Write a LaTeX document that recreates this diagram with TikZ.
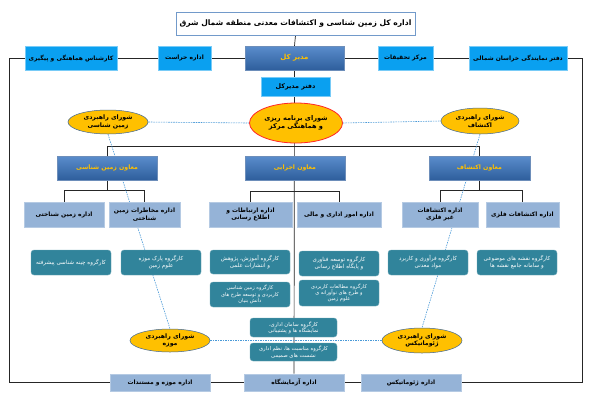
\documentclass[tikz,border=0pt]{standalone}
\usepackage{fontspec}
\newfontfamily\fa[Script=Arabic]{DejaVu Sans}
\TeXXeTstate=1
\usetikzlibrary{shapes.geometric,shadows,backgrounds}
\newcommand\fr[1]{\beginR #1\endR}
\definecolor{topblue}{HTML}{0AA0F0}
\definecolor{darkA}{HTML}{5A8DCC}
\definecolor{darkB}{HTML}{2E5E9C}
\definecolor{gold}{HTML}{FFC000}
\definecolor{lightbox}{HTML}{95B3D7}
\definecolor{tealbox}{HTML}{31849B}
\definecolor{dotblue}{HTML}{4A9AD8}
\definecolor{framec}{HTML}{4F81BD}
\begin{document}
\begin{tikzpicture}[x=1pt,y=-1pt,
  base/.style={inner sep=1pt, align=center, font=\fa\bfseries\fontsize{6}{7.4}\selectfont},
  topbox/.style={base, rectangle, fill=topblue, draw=topblue!55!white, line width=0.6pt},
  darkbox/.style={base, rectangle, top color=darkA, bottom color=darkB, draw=darkB!70!white, text=gold,
    font=\fa\bfseries\fontsize{6.2}{7}\selectfont, drop shadow={shadow xshift=0.8pt, shadow yshift=-1pt, fill=black!35}},
  offbox/.style={base, rectangle, fill=lightbox, draw=lightbox!70!white, line width=0.6pt,
    drop shadow={shadow xshift=0.8pt, shadow yshift=-1pt, fill=black!30}},
  wgbox/.style={base, rectangle, rounded corners=3pt, fill=tealbox, draw=tealbox!70!white, text=white,
    font=\fa\fontsize{5.6}{7}\selectfont},
  council/.style={base, ellipse, inner sep=0pt, fill=gold, draw=framec!80!black, line width=0.5pt,
    font=\fa\bfseries\fontsize{6.2}{7.6}\selectfont},
  conn/.style={draw=black!85, line width=0.7pt},
  dotl/.style={draw=dotblue, line width=0.6pt, dash pattern=on 1.5pt off 1pt},
]
\begin{pgfonlayer}{background}
\fill[white] (0,0) rectangle (591,400);
\end{pgfonlayer}
\useasboundingbox (0,0) rectangle (591,400);

% top
\node[base, rectangle, fill=white, draw=framec!80!white, line width=0.8pt, minimum width=239pt, minimum height=23pt,
  font=\fa\bfseries\fontsize{7.6}{9}\selectfont] (title) at (295.5,23.5) {\fr{اداره کل زمین شناسی و اکتشافات معدنی منطقه شمال شرق}};
\node[darkbox, minimum width=99pt, minimum height=24pt, font=\fa\bfseries\fontsize{7}{8}\selectfont] (modir) at (294.5,58) {\fr{مدیر کل}};
\node[topbox, minimum width=53pt, minimum height=24pt] (herasat) at (184.5,58) {\fr{اداره حراست}};
\node[topbox, minimum width=92pt, minimum height=24pt] (karshenas) at (71,58) {\fr{کارشناس هماهنگی و پیگیری}};
\node[topbox, minimum width=55pt, minimum height=24pt] (markaz) at (405.5,58) {\fr{مرکز تحقیقات}};
\node[topbox, minimum width=98pt, minimum height=24pt] (namayande) at (518,58) {\fr{دفتر نمایندگی خراسان شمالی}};
\node[topbox, minimum width=69pt, minimum height=19pt, font=\fa\bfseries\fontsize{6.4}{7}\selectfont] (daftar) at (295.5,86.5) {\fr{دفتر مدیرکل}};

% councils
\node[council, draw=red!85, line width=0.8pt, minimum width=93pt, minimum height=40pt, font=\fa\bfseries\fontsize{6.6}{8.2}\selectfont] (ecenter) at (296,123) {\fr{شورای برنامه ریزی}\\\fr{و هماهنگی مرکز}};
\node[council, minimum width=80pt, minimum height=24pt] (egeo) at (108,122) {\fr{شورای راهبردی}\\\fr{زمین شناسی}};
\node[council, minimum width=78pt, minimum height=26pt] (eexplo) at (480,121) {\fr{شورای راهبردی}\\\fr{اکتشاف}};

% deputies
\node[darkbox, minimum width=100pt, minimum height=24pt] (mgeo) at (107,168) {\fr{معاون زمین شناسی}};
\node[darkbox, minimum width=100pt, minimum height=24pt] (mexec) at (295,168) {\fr{معاون اجرایی}};
\node[darkbox, minimum width=101pt, minimum height=24pt] (mexplo) at (479.5,168) {\fr{معاون اکتشاف}};

% offices
\node[offbox, minimum width=80pt, minimum height=25pt] (ozamin) at (64,214.5) {\fr{اداره  زمین شناختی}};
\node[offbox, minimum width=71pt, minimum height=25pt] (omokh) at (144.5,214.5) {\fr{اداره مخاطرات زمین}\\\fr{شناختی}};
\node[offbox, minimum width=83pt, minimum height=25pt] (oertebat) at (250.5,214.5) {\fr{اداره ارتباطات و}\\\fr{اطلاع رسانی}};
\node[offbox, minimum width=84pt, minimum height=25pt] (oomur) at (339,214.5) {\fr{اداره امور اداری و مالی}};
\node[offbox, minimum width=76pt, minimum height=25pt] (ogheyr) at (440,214.5) {\fr{اداره اکتشافات}\\\fr{غیر فلزی}};
\node[offbox, minimum width=73pt, minimum height=25pt] (ofelez) at (522.5,214.5) {\fr{اداره اکتشافات فلزی}};

% working groups
\node[wgbox, minimum width=80pt, minimum height=25pt] (kchine) at (71,262.5) {\fr{کارگروه چینه شناسی پیشرفته}};
\node[wgbox, minimum width=80pt, minimum height=25pt] (kpark) at (161,262.5) {\fr{کارگروه پارک موزه}\\\fr{علوم زمین}};
\node[wgbox, minimum width=80pt, minimum height=24pt] (kamuzesh) at (250,262) {\fr{کارگروه آموزش، پژوهش}\\\fr{و انتشارات علمی}};
\node[wgbox, minimum width=80pt, minimum height=25pt, font=\fa\fontsize{5.1}{6.2}\selectfont] (kkarbordi) at (250,294.5) {\fr{کارگروه زمین شناسی}\\\fr{کاربردی و توسعه طرح های}\\\fr{دانش بنیان}};
\node[wgbox, minimum width=80pt, minimum height=25pt] (kfanavari) at (339,263.5) {\fr{کارگروه توسعه فناوری}\\\fr{و پایگاه اطلاع رسانی}};
\node[wgbox, minimum width=80pt, minimum height=26pt, font=\fa\fontsize{5.1}{6.2}\selectfont] (kmotaleat) at (339,293) {\fr{کارگروه مطالعات کاربردی}\\\fr{و طرح های نوآورانه ی}\\\fr{علوم زمین}};
\node[wgbox, minimum width=80pt, minimum height=25pt] (kfaravari) at (428,262.5) {\fr{کارگروه فرآوری و کاربرد}\\\fr{مواد معدنی}};
\node[wgbox, minimum width=80pt, minimum height=25pt] (knaghshe) at (517,262.5) {\fr{کارگروه نقشه های موضوعی}\\\fr{و سامانه جامع نقشه ها}};
\node[wgbox, minimum width=87pt, minimum height=19pt, font=\fa\fontsize{5.3}{6.3}\selectfont] (ksaman) at (293.5,327.5) {\fr{کارگروه سامان اداری،}\\\fr{نمایشگاه ها و پشتیبانی}};
\node[wgbox, minimum width=87pt, minimum height=18pt, font=\fa\fontsize{5.3}{6.3}\selectfont] (kmonasebat) at (293.5,352) {\fr{کارگروه مناسبت ها، نظم اداری}\\\fr{نشست های صمیمی}};

% bottom councils
\node[council, minimum width=80pt, minimum height=23pt] (emuze) at (170,340.5) {\fr{شورای راهبردی}\\\fr{موزه}};
\node[council, minimum width=80pt, minimum height=25pt] (egeomat) at (422,340.5) {\fr{شورای راهبردی}\\\fr{ژئوماتیکس}};

% bottom offices
\node[offbox, minimum width=100pt, minimum height=17pt] (omuze) at (160,382.5) {\fr{اداره موزه و مستندات}};
\node[offbox, minimum width=100pt, minimum height=17pt] (oazma) at (294,382.5) {\fr{اداره آزمایشگاه}};
\node[offbox, minimum width=100pt, minimum height=17pt] (ogeomat) at (411,382.5) {\fr{اداره ژئوماتیکس}};

\begin{pgfonlayer}{background}
  \draw[conn] (title.south) -- (modir.north);
  \draw[conn] (karshenas.east) -- (herasat.west);
  \draw[conn] (herasat.east) -- (modir.west);
  \draw[conn] (modir.east) -- (markaz.west);
  \draw[conn] (markaz.east) -- (namayande.west);
  \draw[conn] (karshenas.west) -- ++(-15,0) |- (omuze.west);
  \draw[conn] (namayande.east) -- ++(15,0) |- (ogeomat.east);
  \draw[conn] (omuze.east) -- (oazma.west);
  \draw[conn] (oazma.east) -- (ogeomat.west);
  \draw[conn] (modir.south) -- (oazma.north);
  \coordinate (bar) at (0,146);
  \draw[conn] (mgeo.north) -- (mgeo.north |- bar) -- (mexplo.north |- bar) -- (mexplo.north);
  \path (mgeo.south) ++(0,10) coordinate (gj);
  \draw[conn] (mgeo.south) -- (gj);
  \draw[conn] (ozamin.north) |- (gj) -| (omokh.north);
  \path (mexec.south) ++(0,11) coordinate (ej);
  \draw[conn] (oertebat.north) |- (ej) -| (oomur.north);
  \path (mexplo.south) ++(0,10) coordinate (xj);
  \draw[conn] (mexplo.south) -- (xj);
  \draw[conn] (ogheyr.north) |- (xj) -| (ofelez.north);
  \draw[dotl] (egeo.south) -- (emuze.north);
  \draw[dotl] (eexplo.south) -- (egeomat.north);
\end{pgfonlayer}
\draw[dotl] (egeo.east) -- (ecenter.west);
\draw[dotl] (ecenter.east) -- (eexplo.west);
\draw[dotl] (emuze.east) -- (egeomat.west);
\end{tikzpicture}
\end{document}
